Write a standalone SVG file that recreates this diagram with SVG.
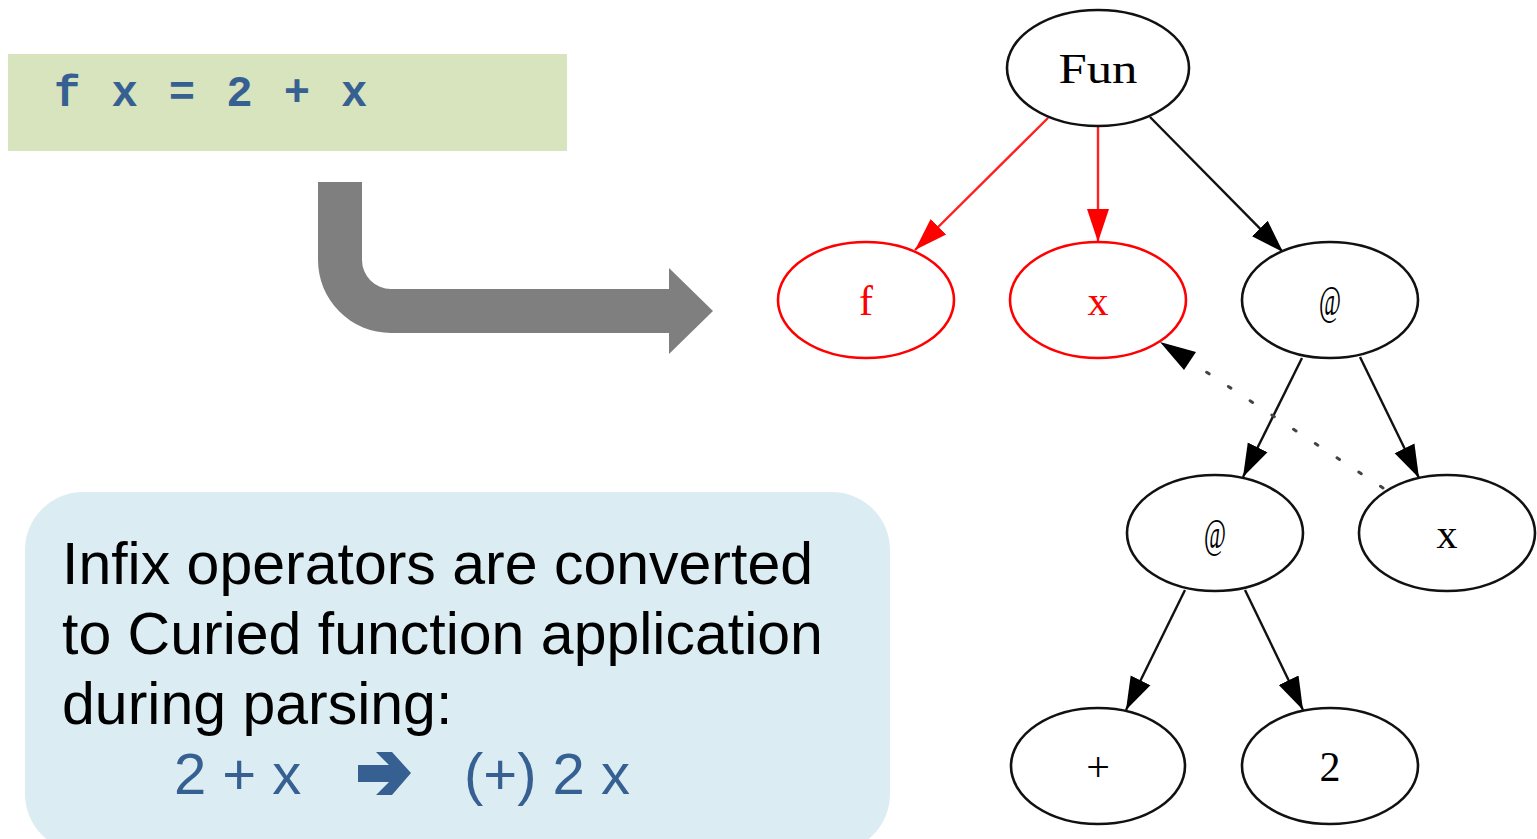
<svg xmlns="http://www.w3.org/2000/svg" width="1537" height="839" viewBox="0 0 1537 839">
<style>
.code{font-family:"Liberation Mono","DejaVu Sans Mono",monospace;font-weight:bold;font-size:44px;fill:#376092;letter-spacing:2.3px}
.note{font-family:"Liberation Sans",Arial,sans-serif;font-size:59px;fill:#000}
.blue{font-family:"Liberation Sans",Arial,sans-serif;font-size:58px;fill:#376092}
.node ellipse{fill:#fff;stroke:#111;stroke-width:2.6}
.node.red ellipse{stroke:#ff0000}
.lbl{font-family:"Liberation Serif","Times New Roman",serif;font-size:42px;text-anchor:middle;fill:#000}
.red .lbl{fill:#ff0000}
.e{fill:none;stroke:#111;stroke-width:2.4}
.e.r{stroke:#ff2020}
.e.d{stroke:#444;stroke-width:3;stroke-dasharray:3 23;stroke-linecap:round}
</style>
<defs>
<marker id="ab" viewBox="0 -13 34 26" refX="33" refY="0" markerWidth="34" markerHeight="26" markerUnits="userSpaceOnUse" orient="auto">
<path d="M0,-11 L33,0 L0,11 Z" fill="#000"/>
</marker>
<marker id="ar" viewBox="0 -13 34 26" refX="33" refY="0" markerWidth="34" markerHeight="26" markerUnits="userSpaceOnUse" orient="auto">
<path d="M0,-11 L33,0 L0,11 Z" fill="#ff0000"/>
</marker>
</defs>
<rect width="1537" height="839" fill="#fff"/>

<g id="code">
<rect x="8" y="54" width="559" height="97" fill="#d7e4bd"/>
<text class="code" x="54" y="106">f x = 2 + x</text>
</g>

<g id="bigarrow">
<path d="M318,182 H362 V260 A29,29 0 0 0 391,289 H669 V268 L713,311 L669,354 V333 H391 A73,73 0 0 1 318,260 Z" fill="#7f7f7f"/>
</g>

<g id="note">
<rect x="25" y="492" width="865" height="360" rx="58" ry="58" fill="#dbedf3"/>
<text class="note" x="62" y="584">Infix operators are converted</text>
<text class="note" x="62" y="654">to Curied function application</text>
<text class="note" x="62" y="724">during parsing:</text>
<text class="blue" x="174" y="794" xml:space="preserve">2 + x</text>
<polygon points="358,765 389,765 376,752 392,752 411,773 392,795 376,795 389,782 358,782" fill="#376092"/>
<text class="blue" x="464" y="794" xml:space="preserve">(+) 2 x</text>
</g>

<g id="edges">
<line class="e r" x1="1048" y1="118" x2="915" y2="250" marker-end="url(#ar)"/>
<line class="e r" x1="1098" y1="126" x2="1098" y2="242" marker-end="url(#ar)"/>
<line class="e" x1="1150" y1="117" x2="1283" y2="252" marker-end="url(#ab)"/>
<line class="e" x1="1302" y1="358" x2="1243" y2="477" marker-end="url(#ab)"/>
<line class="e" x1="1360" y1="357" x2="1419" y2="478" marker-end="url(#ab)"/>
<line class="e" x1="1185" y1="590" x2="1126" y2="710" marker-end="url(#ab)"/>
<line class="e" x1="1245" y1="590" x2="1303" y2="710" marker-end="url(#ab)"/>
<line class="e d" x1="1383" y1="488" x2="1188" y2="360"/>
<path d="M1160,342 L1196,352 L1184,370 Z" fill="#000"/>
</g>

<g id="n-fun" class="node"><ellipse cx="1098" cy="68" rx="91" ry="58"/><text class="lbl" x="1098" y="83" textLength="79" lengthAdjust="spacingAndGlyphs">Fun</text></g>
<g id="n-f" class="node red"><ellipse cx="866" cy="300" rx="88" ry="58"/><text class="lbl" x="866" y="315">f</text></g>
<g id="n-x1" class="node red"><ellipse cx="1098" cy="300" rx="88" ry="58"/><text class="lbl" x="1098" y="315">x</text></g>
<g id="n-app1" class="node"><ellipse cx="1330" cy="300" rx="88" ry="58"/><text class="lbl" x="1330" y="315" textLength="22" lengthAdjust="spacingAndGlyphs">@</text></g>
<g id="n-app2" class="node"><ellipse cx="1215" cy="533" rx="88" ry="58"/><text class="lbl" x="1215" y="548" textLength="22" lengthAdjust="spacingAndGlyphs">@</text></g>
<g id="n-x2" class="node"><ellipse cx="1447" cy="533" rx="88" ry="58"/><text class="lbl" x="1447" y="548">x</text></g>
<g id="n-plus" class="node"><ellipse cx="1098" cy="766" rx="87" ry="58"/><text class="lbl" x="1098" y="781">+</text></g>
<g id="n-2" class="node"><ellipse cx="1330" cy="766" rx="88" ry="58"/><text class="lbl" x="1330" y="781">2</text></g>
</svg>
